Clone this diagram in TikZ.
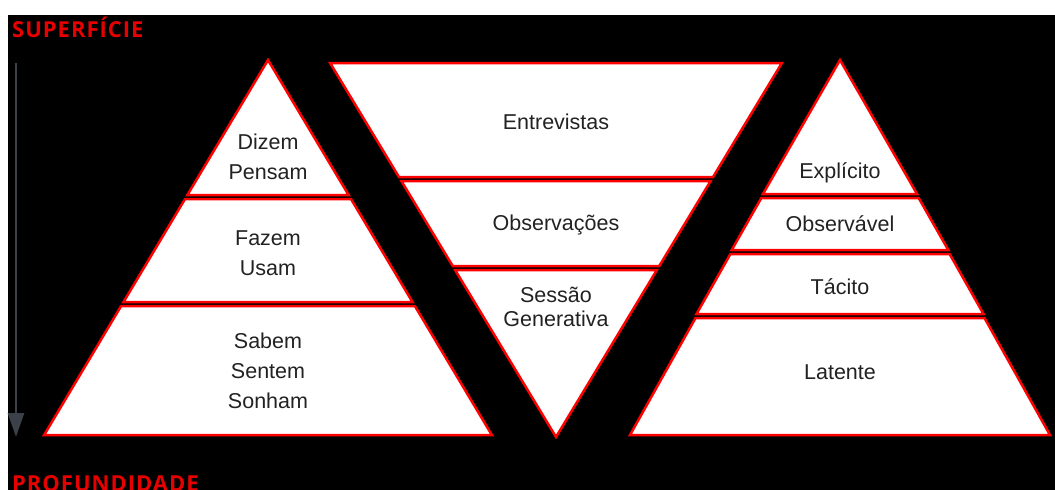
\documentclass[tikz,border=0pt]{standalone}
\usepackage{fontspec}
\usetikzlibrary{arrows.meta}
\newfontfamily\bandfont{Liberation Sans}
\newfontfamily\headfont{Open Sans}[LetterSpace=4.5]
\newfontfamily\shadefont{Open Sans}[LetterSpace=3]
\definecolor{bandred}{RGB}{255,0,0}
\definecolor{headred}{RGB}{232,0,0}
\definecolor{bandtext}{RGB}{34,34,34}
\definecolor{hiddenink}{RGB}{0,0,0}
\definecolor{axisgray}{RGB}{60,64,72}

% trapezoid band of an upright pyramid: centre x, apex y, slope, top y, bottom y
\newcommand\upband[5]{%
  \pgfmathsetmacro\wtop{#3*(#4-#2)}%
  \pgfmathsetmacro\wbot{#3*(#5-#2)}%
  \draw[band] ({#1-\wtop},#4) -- ({#1+\wtop},#4) -- ({#1+\wbot},#5) -- ({#1-\wbot},#5) -- cycle;}
% trapezoid band of an inverted pyramid: centre x, apex y, slope, top y, bottom y
\newcommand\downband[5]{%
  \pgfmathsetmacro\wtop{#3*(#2-#4)}%
  \pgfmathsetmacro\wbot{#3*(#2-#5)}%
  \draw[band] ({#1-\wtop},#4) -- ({#1+\wtop},#4) -- ({#1+\wbot},#5) -- ({#1-\wbot},#5) -- cycle;}

\begin{document}
\begin{tikzpicture}[x=1pt,y=-1pt,
  band/.style={fill=white,draw=bandred,line width=2.5pt,line join=miter},
  label/.style={font=\bandfont\fontsize{21.5}{30}\selectfont,text=bandtext,align=center},
  tightlabel/.style={label,font=\bandfont\fontsize{21.5}{24}\selectfont},
  heading/.style={font=\headfont\bfseries\fontsize{22}{22}\selectfont,text=headred,inner sep=0pt},
  sidelabel/.style={font=\shadefont\bfseries\fontsize{20}{20}\selectfont,text=hiddenink,inner sep=0pt},
  depth/.style={draw=axisgray,line width=2.6pt,-{Triangle[width=16pt,length=24pt]}}]

% canvas
\useasboundingbox (0,0) rectangle (1055,490);
\fill[black] (8,15) rectangle (1055,490);

% left pyramid: apex (268,60), slope 0.597
\draw[band] (268,60) -- ({268+0.597*135},195) -- ({268-0.597*135},195) -- cycle;
\upband{268}{60}{0.597}{199}{302}
\upband{268}{60}{0.597}{306}{435}

% inverted pyramid: apex (556,437), slope 0.604
\downband{556}{437}{0.604}{63}{177}
\downband{556}{437}{0.604}{181}{266}
\draw[band] ({556-0.604*167},270) -- ({556+0.604*167},270) -- (556,437) -- cycle;

% right pyramid: apex (840,60)
\draw[band] (840,60) -- ({840+0.575*134},194) -- ({840-0.575*134},194) -- cycle;
\upband{840}{60}{0.57}{198}{250}
\upband{840}{60}{0.565}{254}{314}
\upband{840}{60}{0.56}{318}{435}

% band texts
\node[label] (dizem)  at (268,157) {Dizem\\Pensam};
\node[label] (fazem)  at (268,253) {Fazem\\Usam};
\node[label] (sabem)  at (268,371) {Sabem\\Sentem\\Sonham};
\node[label] (entrev) at (556,122) {Entrevistas};
\node[label] (observ) at (556,225) {Observações};
\node[tightlabel] (sessao) at (556,307) {Sessão\\Generativa};
\node[label] (explic) at (840,173) {Explícito};
\node[label] (obsvel) at (840,224) {Observável};
\node[label] (tacito) at (840,287) {Tácito};
\node[label] (latent) at (840,372) {Latente};

% headings
\node[heading,anchor=base west] (sup) at (12,37) {SUPERFÍCIE};
\node[heading,anchor=base west] (prof) at (12,491) {PROFUNDIDADE};
\node[sidelabel] (tec) at (562,28) {TÉCNICAS};
\node[sidelabel,rotate=58.6] (pessoas) at (118,243) {O QUE AS PESSOAS};
\node[sidelabel,rotate=-60.5] (conhec) at (996,240) {CONHECIMENTO};

% depth axis
\coordinate (axtop) at (16,63);
\coordinate (axbot) at (16,437);
\draw[depth] (axtop) -- (axbot);
\end{tikzpicture}
\end{document}
